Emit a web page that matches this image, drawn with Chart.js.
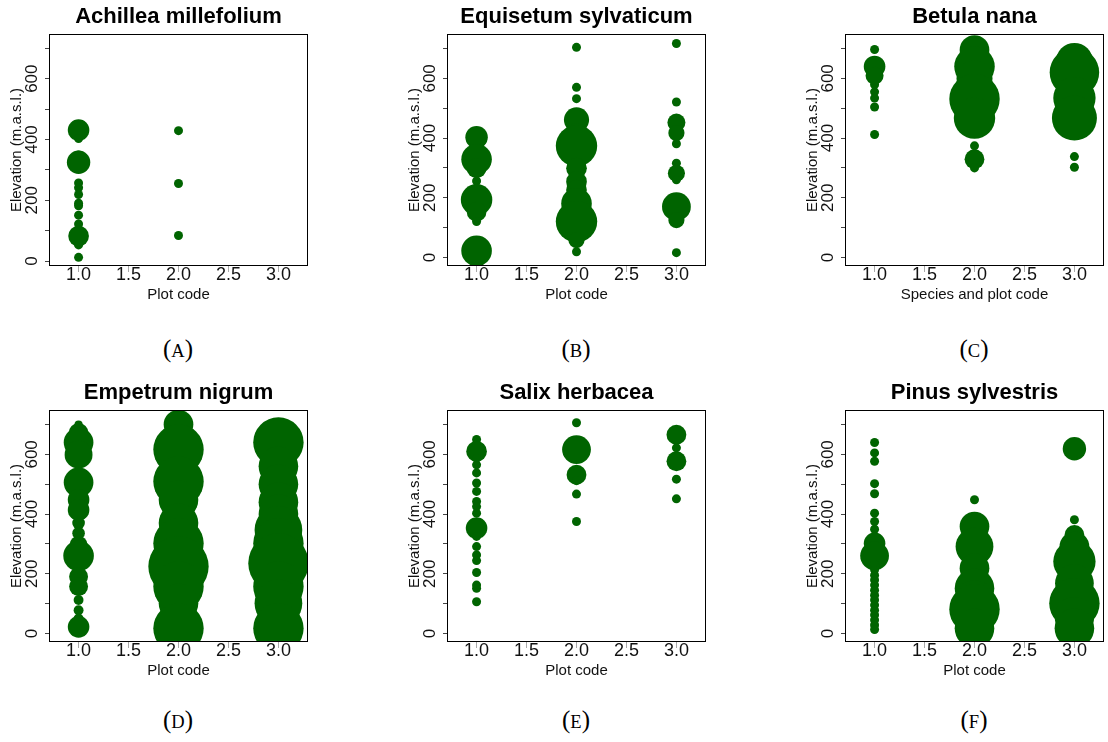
<!DOCTYPE html>
<html>
<head>
<meta charset="utf-8">
<script src="https://cdn.jsdelivr.net/npm/chart.js@4.4.0/dist/chart.umd.min.js"></script>
<style>
  html, body { margin: 0; padding: 0; background: #fff; overflow: hidden; }
  body { width: 1108px; height: 742px; position: relative; }
  canvas { position: absolute; }
  .cap { position: absolute; width: 120px; height: 30px; line-height: 30px; text-align: center;
         font-family: "Liberation Serif", "DejaVu Serif", serif; font-size: 25px; color: #000; }
  .cap span { font-size: 0.74em; }
</style>
</head>
<body>
<canvas id="pA" width="312" height="310" style="left:0px;top:0px"></canvas>
<canvas id="pB" width="312" height="310" style="left:398px;top:0px"></canvas>
<canvas id="pC" width="312" height="310" style="left:796px;top:0px"></canvas>
<canvas id="pD" width="312" height="310" style="left:0px;top:376px"></canvas>
<canvas id="pE" width="312" height="310" style="left:398px;top:376px"></canvas>
<canvas id="pF" width="312" height="310" style="left:796px;top:376px"></canvas>

<div class="cap" style="left:118px;top:334px">(<span>A</span>)</div>
<div class="cap" style="left:516px;top:334px">(<span>B</span>)</div>
<div class="cap" style="left:914px;top:334px">(<span>C</span>)</div>
<div class="cap" style="left:118px;top:705px">(<span>D</span>)</div>
<div class="cap" style="left:516px;top:705px">(<span>E</span>)</div>
<div class="cap" style="left:914px;top:705px">(<span>F</span>)</div>

<script>
// axis ticks
var xTicks = [1.0, 1.5, 2.0, 2.5, 3.0];
var yTicks = [0, 100, 200, 300, 400, 500, 600, 700];

// Achillea millefolium : plot code, elevation, abundance
var achilleaPlot = [1, 1, 1, 1, 1, 1, 1, 1, 1, 1, 1, 1, 1, 1, 1, 2, 2, 2];
var achilleaElev = [431, 403, 349, 325, 257, 241, 219, 190, 182, 151, 122, 102, 82, 53, 12, 429, 255, 84];
var achilleaAbund = [2.4, 1, 1, 2.6, 1, 1, 1, 1, 1, 1, 1, 1, 2.3, 1, 1, 1, 1, 1];

// Equisetum sylvaticum
var equisetumPlot = [1, 1, 1, 1, 1, 1, 1, 1,
                     2, 2, 2, 2, 2, 2, 2, 2, 2, 2, 2, 2, 2,
                     3, 3, 3, 3, 3, 3, 3, 3, 3, 3, 3];
var equisetumElev = [403, 329, 299, 256, 193, 153, 120, 22,
                     704, 570, 532, 461, 405, 374, 299, 254, 226, 181, 120, 58, 19,
                     717, 521, 452, 417, 381, 316, 282, 260, 170, 125, 16];
var equisetumAbund = [2.5, 3.4, 2.2, 1, 3.5, 2.2, 1, 3.4,
                      1, 1, 1, 2.8, 3, 4.6, 2.3, 2.3, 2.3, 3.4, 4.6, 1.8, 1,
                      1, 1, 2, 1.8, 1, 1, 1.9, 1, 3.2, 1.8, 1];

// Betula nana
var betulaPlot = [1, 1, 1, 1, 1, 1, 1, 1,
                  2, 2, 2, 2, 2, 2, 2, 2,
                  3, 3, 3, 3, 3, 3];
var betulaElev = [697, 640, 609, 579, 555, 534, 504, 412,
                  695, 640, 600, 531, 467, 374, 329, 300,
                  657, 620, 534, 467, 338, 302];
var betulaAbund = [1, 2.4, 2, 1, 1, 1, 1, 1,
                   3.3, 4.5, 4, 5.6, 4.6, 1, 2.2, 1,
                   4.1, 5.5, 4.7, 5, 1, 1];

// Empetrum nigrum
var empetrumPlot = [1, 1, 1, 1, 1, 1, 1, 1, 1, 1, 1, 1, 1, 1, 1, 1, 1,
                    2, 2, 2, 2, 2, 2, 2, 2, 2, 2,
                    3, 3, 3, 3, 3, 3, 3, 3, 3, 3, 3];
var empetrumElev = [700, 672, 640, 599, 506, 448, 414, 370, 336, 297, 260, 190, 157, 112, 78, 50, 22,
                    700, 616, 509, 448, 370, 302, 224, 157, 101, 17,
                    640, 560, 500, 440, 400, 347, 302, 235, 157, 101, 17];
var empetrumAbund = [0.9, 2.2, 3.3, 3.1, 3.3, 2.4, 2.4, 1.4, 1.4, 2, 3.4, 2.1, 2.1, 1.1, 1.1, 1.1, 2.4,
                     3.3, 5.6, 5.6, 4.4, 4.4, 5.6, 6.7, 5.6, 4.4, 5.6,
                     5.6, 4.4, 4.4, 4.4, 4.4, 5.3, 5.6, 6.7, 5.6, 5.3, 5.6];

// Salix herbacea
var salixPlot = [1, 1, 1, 1, 1, 1, 1, 1, 1, 1, 1, 1, 1, 1, 1, 1, 1, 1, 1, 1,
                 2, 2, 2, 2, 2, 2,
                 3, 3, 3, 3, 3];
var salixElev = [650, 627, 610, 588, 565, 538, 504, 476, 442, 425, 403, 353, 325, 291, 263, 244, 204, 162, 151, 106,
                 706, 616, 532, 512, 467, 375,
                 666, 622, 577, 517, 451];
var salixAbund = [1, 1, 2.3, 1, 1, 1, 1, 1, 1, 1, 1, 2.4, 1, 1, 1, 1, 1, 1, 1, 1,
                  1, 3.2, 2.2, 1, 1, 1,
                  2.2, 1, 2.2, 1, 1];

// Pinus sylvestris
var pinusPlot = [1, 1, 1, 1, 1, 1, 1, 1, 1, 1, 1, 1, 1, 1, 1, 1, 1, 1, 1, 1, 1, 1, 1, 1,
                 2, 2, 2, 2, 2, 2, 2, 2,
                 3, 3, 3, 3, 3, 3, 3, 3, 3];
var pinusElev = [640, 605, 577, 502, 468, 403, 375, 349, 302, 260, 230, 213, 195, 179, 162, 145, 128, 112, 95, 78, 62, 45, 28, 13,
                 448, 358, 291, 218, 151, 112, 81, 17,
                 619, 381, 330, 291, 241, 168, 101, 56, 17];
var pinusAbund = [1, 1, 1, 1, 1, 1, 1, 1, 2.4, 3.2, 1, 1, 1, 1, 1, 1, 1, 1, 1, 1, 1, 1, 1, 1,
                  1, 3.3, 4.2, 3.3, 4.4, 4.4, 5.6, 4.4,
                  2.6, 1, 2.2, 3.3, 4.7, 4.3, 5.6, 4.4, 4.4];

var GREEN = '#006400';
var FONT = "'Liberation Sans', Arial, sans-serif";
var RADIUS_UNIT = 4.5; // pixel radius of one abundance unit

// black frame round the plot region
var boxPlugin = {
    id: 'box',
    afterDraw: function (chart) {
        var a = chart.chartArea, ctx = chart.ctx;
        ctx.save();
        ctx.strokeStyle = '#000';
        ctx.lineWidth = 1;
        ctx.strokeRect(Math.round(a.left) + 0.5, Math.round(a.top) + 0.5,
                       Math.round(a.right - a.left) - 1, Math.round(a.bottom - a.top) - 1);
        ctx.restore();
    }
};

function makePanel(id, title, xTitle, plots, elev, abund, yMin, yMax) {
    var pts = plots.map(function (p, i) {
        return { x: p, y: elev[i], r: RADIUS_UNIT * abund[i] };
    });
    return new Chart(document.getElementById(id), {
        type: 'bubble',
        data: { datasets: [{ data: pts, backgroundColor: GREEN, borderWidth: 0, clip: 0 }] },
        options: {
            responsive: false,
            animation: false,
            events: [],
            // big bubbles must not shrink the plot region
            layout: { autoPadding: false, padding: { left: 0, right: 4, top: 0, bottom: 0 } },
            plugins: {
                legend: { display: false },
                tooltip: { enabled: false },
                title: {
                    display: true, text: title, fullSize: false, color: '#000',
                    font: { family: FONT, size: 22, weight: 'bold', lineHeight: 1.2 },
                    padding: { top: 3.3, bottom: 4.3 }
                }
            },
            scales: {
                x: {
                    type: 'linear', min: 0.704, max: 3.296,
                    afterBuildTicks: function (s) { s.ticks = xTicks.map(function (v) { return { value: v }; }); },
                    afterFit: function (s) { s.height = 44; s.paddingLeft = 0; s.paddingRight = 0; },
                    grid: { drawOnChartArea: false, tickLength: 6, color: '#aaa' },
                    border: { display: false },
                    ticks: {
                        callback: function (v) { return Number(v).toFixed(1); },
                        color: '#111', padding: -5.5, maxRotation: 0, autoSkip: false,
                        font: { family: FONT, size: 18, lineHeight: 1 }
                    },
                    title: {
                        display: true, text: xTitle, color: '#111',
                        font: { family: FONT, size: 15, lineHeight: 1.2 },
                        padding: { top: 0, bottom: 6 }
                    }
                },
                y: {
                    type: 'linear', min: yMin, max: yMax,
                    afterBuildTicks: function (s) { s.ticks = yTicks.map(function (v) { return { value: v }; }); },
                    afterFit: function (s) { s.width = 49; },
                    grid: { drawOnChartArea: false, tickLength: 4, color: '#444' },
                    border: { display: false },
                    ticks: {
                        callback: function (v) { return v % 200 === 0 ? String(v) : ''; },
                        minRotation: 90, maxRotation: 90, crossAlign: 'center',
                        padding: -1.5, autoSkip: false, color: '#111',
                        font: { family: FONT, size: 17 }
                    },
                    title: {
                        display: true, text: 'Elevation (m.a.s.l.)', color: '#111',
                        font: { family: FONT, size: 15, lineHeight: 1.2 },
                        padding: { top: 7.5, bottom: 0 }
                    }
                }
            }
        },
        plugins: [boxPlugin]
    });
}

makePanel('pA', 'Achillea millefolium', 'Plot code', achilleaPlot, achilleaElev, achilleaAbund, -16.4, 747);
makePanel('pB', 'Equisetum sylvaticum', 'Plot code', equisetumPlot, equisetumElev, equisetumAbund, -28.8, 748.8);
makePanel('pC', 'Betula nana', 'Species and plot code', betulaPlot, betulaElev, betulaAbund, -28.8, 748.8);
makePanel('pD', 'Empetrum nigrum', 'Plot code', empetrumPlot, empetrumElev, empetrumAbund, -28.8, 748.8);
makePanel('pE', 'Salix herbacea', 'Plot code', salixPlot, salixElev, salixAbund, -28.8, 748.8);
makePanel('pF', 'Pinus sylvestris', 'Plot code', pinusPlot, pinusElev, pinusAbund, -28.8, 748.8);
</script>
</body>
</html>
